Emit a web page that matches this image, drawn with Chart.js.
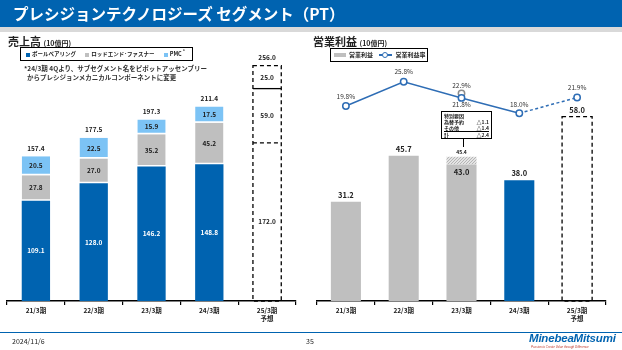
<!DOCTYPE html>
<html>
<head>
<meta charset="utf-8">
<script src="https://cdn.jsdelivr.net/npm/chart.js@4.4.0/dist/chart.umd.min.js"></script>
<style>
  body { margin: 0; width: 622px; height: 350px; overflow: hidden; background: #fff; position: relative;
         font-family: "Noto Sans CJK JP", "Noto Sans", sans-serif; color: #222; }
  canvas { position: absolute; top: 0; }
  #salesChart { left: 0; }
  #profitChart { left: 305px; }
  .abs { position: absolute; white-space: nowrap; }
  #header { left: 0; top: 0; width: 622px; height: 27px; background: #0063b0; }
  #header span { position: absolute; left: 13px; top: 3px; color: #fff; font-weight: bold; font-size: 15.5px; line-height: 20px; }
  #headerLine { left: 0; top: 27px; width: 622px; height: 5px; background: #d9d9d9; }
  .ttl { font-weight: bold; font-size: 11px; line-height: 12px; }
  .ttl small { font-size: 7px; }
  .legend { border: 1px solid #000; height: 14px; font-weight: bold; line-height: 12px; box-sizing: border-box; }
  .legend i { display: inline-block; vertical-align: middle; }
  .note { font-size: 6.5px; line-height: 8.5px; font-weight: bold; color: #333; }
  #memo { left: 441px; top: 111px; width: 51px; height: 28px; border: 1px solid #000; box-sizing: border-box; font-size: 5px; line-height: 6px; padding: 1px 2px; font-weight: bold; }
  #memo div { display: flex; justify-content: space-between; }
  #footLine { left: 0; top: 332px; width: 622px; height: 1px; background: #0063b0; }
  .foot { font-size: 7px; top: 336px; }
</style>
</head>
<body>
<canvas id="salesChart" width="305" height="350"></canvas>
<canvas id="profitChart" width="317" height="350"></canvas>

<div id="header" class="abs"><span>プレシジョンテクノロジーズ セグメント（PT）</span></div>
<div id="headerLine" class="abs"></div>

<div class="abs ttl" style="left:8px;top:35px;">売上高 <small>(10億円)</small></div>
<div class="abs legend" style="left:20px;top:47px;width:173px;font-size:5.5px;">
  <i style="width:4px;height:4px;background:#0063b0;margin:0 2px 0 5px;"></i>ボールベアリング
  <i style="width:4px;height:4px;background:#bfbfbf;margin:0 2px 0 8px;"></i>ロッドエンド･ファスナー
  <i style="width:4px;height:4px;background:#7cc3f5;margin:0 2px 0 8px;"></i>PMC<sup style="font-size:4.5px;line-height:0;"> *</sup>
</div>
<div class="abs note" style="left:24px;top:64px;">*24/3期 4Qより、サブセグメント名をピボットアッセンブリー<br>&nbsp;&nbsp;からプレシジョンメカニカルコンポーネントに変更</div>

<div class="abs ttl" style="left:313px;top:35px;">営業利益 <small>(10億円)</small></div>
<div class="abs legend" style="left:330px;top:48px;width:98px;font-size:6px;">
  <i style="width:12px;height:4px;background:#bfbfbf;margin:0 3px 0 3px;"></i>営業利益
  <i style="width:13px;height:2px;background:#2e6db5;margin:0 3px 0 5px;position:relative;"><b style="position:absolute;left:3px;top:-2.5px;width:4px;height:4px;border:1.2px solid #2e6db5;border-radius:50%;background:#fff;"></b></i>営業利益率
</div>

<div id="memo" class="abs">
  <div><span>特別要因</span></div>
  <div><span>為替予約</span><span>△1.1</span></div>
  <div style="border-bottom:0.8px solid #000;"><span>その他</span><span>△1.4</span></div>
  <div><span>計</span><span>△2.4</span></div>
</div>
<div class="abs" style="left:463px;top:139px;width:1px;height:8px;background:#000;"></div>

<div id="footLine" class="abs"></div>
<div class="abs foot" style="left:12px;">2024/11/6</div>
<div class="abs foot" style="left:306px;">35</div>
<div class="abs" style="left:529px;top:332px;font-size:11.5px;font-weight:bold;font-style:italic;color:#0063b0;font-family:'Liberation Sans',sans-serif;letter-spacing:-0.2px;">MinebeaMitsumi</div>
<div class="abs" style="left:531px;top:345px;font-size:3px;font-style:italic;color:#c0392b;font-family:'Liberation Sans',sans-serif;">Passion to Create Value through Difference</div>

<script>
const periods = ["21/3期", "22/3期", "23/3期", "24/3期", ["25/3期", "予想"]];

// 売上高
const ballBearing = [109.1, 128.0, 146.2, 148.8, 172.0];
const rodEnd = [27.8, 27.0, 35.2, 45.2, 59.0];
const pmc = [20.5, 22.5, 15.9, 17.5, 25.0];
const salesTotal = [157.4, 177.5, 197.3, 211.4, 256.0];

// 営業利益
const opIncome = [31.2, 45.7, 43.0, 38.0, 58.0];
const opSpecial = [0, 0, 2.4, 0, 0];
const opIncomeTotal = [31.2, 45.7, 45.4, 38.0, 58.0];
const opMargin = [19.8, 25.8, 21.8, 18.0, 21.9];
const opMarginExSpecial = [null, null, 22.9, null, null];

const BLUE = "#0063b0";
const GRAY = "#bfbfbf";
const LIGHT = "#7cc3f5";
const LINE = "#2e6db5";
const FONT = '"Noto Sans CJK JP", "Noto Sans", sans-serif';

function xAxis() {
  return {
    stacked: true,
    afterFit: s => { s.height = 30; },
    border: { display: true, color: "#000", width: 1.5 },
    grid: { display: true, drawOnChartArea: false, drawTicks: true, tickLength: 4, color: "#000", lineWidth: 1.2, offset: true },
    ticks: { color: "#222", padding: 2, font: { family: FONT, size: 6.5, weight: "bold" }, maxRotation: 0 }
  };
}

function text(ctx, str, x, y, color, size, bold) {
  ctx.save();
  ctx.fillStyle = color;
  ctx.font = (bold ? "bold " : "") + size + "px " + FONT;
  ctx.textAlign = "center";
  ctx.textBaseline = "middle";
  ctx.fillText(str, x, y);
  ctx.restore();
}

// ---- 売上高 ----
const salesLabels = {
  id: "salesLabels",
  afterDatasetsDraw(chart) {
    const ctx = chart.ctx;
    const metas = [0, 1, 2].map(i => chart.getDatasetMeta(i));
    const series = [ballBearing, rodEnd, pmc];
    metas.forEach((meta, i) => {
      meta.data.forEach((bar, j) => {
        const color = (i === 0 && j < 4) ? "#fff" : "#222";
        text(ctx, series[i][j].toFixed(1), bar.x, (bar.y + bar.base) / 2, color, 6.5, true);
      });
    });
    metas[2].data.forEach((bar, j) => {
      text(ctx, salesTotal[j].toFixed(1), bar.x, bar.y - 8, "#222", 6.5, true);
    });
    // forecast outline
    const b0 = metas[0].data[4], b1 = metas[1].data[4], b2 = metas[2].data[4];
    const l = b0.x - b0.width / 2, r = b0.x + b0.width / 2;
    ctx.save();
    ctx.strokeStyle = "#000";
    ctx.lineWidth = 1.3;
    ctx.setLineDash([4, 3]);
    ctx.strokeRect(l, b2.y, r - l, b0.base - b2.y);
    ctx.beginPath();
    ctx.moveTo(l, b0.y); ctx.lineTo(r, b0.y);
    ctx.stroke();
    ctx.setLineDash([]);
    ctx.beginPath();
    ctx.moveTo(l, b1.y); ctx.lineTo(r, b1.y);
    ctx.stroke();
    ctx.restore();
  }
};

const fade = (c) => [c, c, c, c, "rgba(0,0,0,0)"];

new Chart(document.getElementById("salesChart"), {
  type: "bar",
  data: {
    labels: periods,
    datasets: [
      { label: "ボールベアリング", data: ballBearing, backgroundColor: fade(BLUE) },
      { label: "ロッドエンド・ファスナー", data: rodEnd, backgroundColor: fade(GRAY), borderColor: fade("#fff"), borderWidth: { bottom: 1.5 }, borderSkipped: false },
      { label: "PMC", data: pmc, backgroundColor: fade(LIGHT), borderColor: fade("#fff"), borderWidth: { bottom: 1.5 }, borderSkipped: false }
    ]
  },
  options: {
    responsive: false,
    animation: false,
    devicePixelRatio: 1,
    layout: { padding: { left: 7, right: 9, top: 50, bottom: 19 } },
    categoryPercentage: 1,
    barPercentage: 0.49,
    plugins: { legend: { display: false }, tooltip: { enabled: false } },
    scales: {
      x: xAxis(),
      y: { stacked: true, display: false, min: 0, max: 273 }
    }
  },
  plugins: [salesLabels]
});

// ---- 営業利益 ----
const pc = document.createElement("canvas");
pc.width = 3; pc.height = 3;
const pctx = pc.getContext("2d");
pctx.fillStyle = "#e4e4e4"; pctx.fillRect(0, 0, 3, 3);
pctx.fillStyle = "#b5b5b5"; pctx.fillRect(0, 0, 1, 1); pctx.fillRect(2, 1, 1, 1); pctx.fillRect(1, 2, 1, 1);
const hatch = pctx.createPattern(pc, "repeat");

const profitLabels = {
  id: "profitLabels",
  afterDatasetsDraw(chart) {
    const ctx = chart.ctx;
    const m0 = chart.getDatasetMeta(0), m1 = chart.getDatasetMeta(1);
    const mLine = chart.getDatasetMeta(2), mEx = chart.getDatasetMeta(3);
    m0.data.forEach((bar, j) => {
      if (j === 2) {
        text(ctx, opIncome[j].toFixed(1), bar.x, bar.y + 8, "#222", 7.5, true);
        text(ctx, opIncomeTotal[j].toFixed(1), bar.x, m1.data[j].y - 5, "#222", 5, true);
      } else {
        text(ctx, opIncomeTotal[j].toFixed(1), bar.x, bar.y - 7, "#222", 7.5, true);
      }
    });
    const b = m0.data[4];
    ctx.save();
    ctx.strokeStyle = "#000";
    ctx.lineWidth = 1.3;
    ctx.setLineDash([4, 3]);
    ctx.strokeRect(b.x - b.width / 2, b.y, b.width, b.base - b.y);
    ctx.restore();
    const offs = [-9, -10, 7, -9, -10];
    mLine.data.forEach((pt, j) => {
      text(ctx, opMargin[j].toFixed(1) + "%", pt.x, pt.y + offs[j], "#333", 6.5, false);
    });
    mEx.data.forEach((pt, j) => {
      if (opMarginExSpecial[j] != null)
        text(ctx, opMarginExSpecial[j].toFixed(1) + "%", pt.x, pt.y - 8, "#333", 6.5, false);
    });
  }
};

new Chart(document.getElementById("profitChart"), {
  type: "bar",
  data: {
    labels: periods,
    datasets: [
      { type: "bar", label: "営業利益", data: opIncome, yAxisID: "y", stack: "op", order: 3,
        backgroundColor: [GRAY, GRAY, GRAY, BLUE, "rgba(0,0,0,0)"] },
      { type: "bar", label: "特別要因", data: opSpecial, yAxisID: "y", stack: "op", order: 3,
        backgroundColor: hatch },
      { type: "line", label: "営業利益率", data: opMargin, yAxisID: "y2", order: 1,
        borderColor: LINE, borderWidth: 1.5, pointRadius: 3.2, pointBorderWidth: 1.5,
        pointBackgroundColor: "#fff", pointBorderColor: LINE,
        segment: { borderDash: c => c.p0DataIndex === 3 ? [3, 2.5] : undefined } },
      { type: "line", label: "特別要因除く", data: opMarginExSpecial, yAxisID: "y2", order: 2,
        showLine: false, pointRadius: 3.2, pointBorderWidth: 1.5,
        pointBackgroundColor: "#fff", pointBorderColor: "#8c8c8c" }
    ]
  },
  options: {
    responsive: false,
    animation: false,
    devicePixelRatio: 1,
    layout: { padding: { left: 12, right: 16, top: 50, bottom: 19 } },
    categoryPercentage: 1,
    barPercentage: 0.52,
    plugins: { legend: { display: false }, tooltip: { enabled: false } },
    scales: {
      x: xAxis(),
      y: { stacked: true, display: false, min: 0, max: 79 },
      y2: { display: false, min: -28.35, max: 33.63 }
    }
  },
  plugins: [profitLabels]
});
</script>
</body>
</html>
